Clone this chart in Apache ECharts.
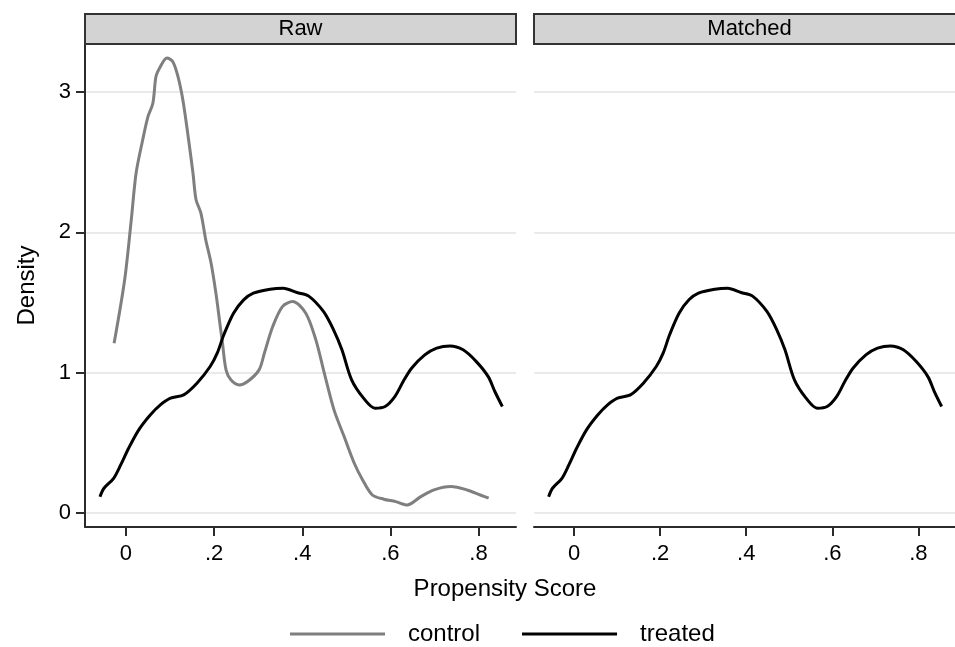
<!DOCTYPE html>
<html>
<head>
<meta charset="utf-8">
<script src="https://cdn.jsdelivr.net/npm/echarts@6/dist/echarts.min.js"></script>
<style>html,body{margin:0;padding:0;background:#fff}#c{width:955px;height:647px}</style>
</head>
<body>
<div id="c"></div>
<script>
// ---- data ----
const panels = ['Raw', 'Matched'];
const seriesNames = ['control', 'treated'];
const xTicks = [0, 0.2, 0.4, 0.6, 0.8];
const yTicks = [0, 1, 2, 3];

const controlX = [-0.027, -0.003, 0.012, 0.023, 0.038, 0.050, 0.061, 0.068, 0.076, 0.093, 0.106, 0.118, 0.129, 0.140, 0.152, 0.159, 0.170, 0.181, 0.193, 0.204, 0.215, 0.219, 0.227, 0.238, 0.257, 0.276, 0.302, 0.314, 0.333, 0.355, 0.378, 0.408, 0.431, 0.450, 0.472, 0.495, 0.518, 0.537, 0.559, 0.585, 0.612, 0.638, 0.669, 0.699, 0.737, 0.774, 0.804, 0.823];
const controlY = [1.21, 1.663, 2.09, 2.423, 2.66, 2.826, 2.92, 3.11, 3.17, 3.242, 3.218, 3.11, 2.945, 2.708, 2.423, 2.233, 2.138, 1.948, 1.782, 1.568, 1.306, 1.211, 1.021, 0.95, 0.914, 0.938, 1.021, 1.14, 1.33, 1.472, 1.508, 1.425, 1.233, 0.998, 0.736, 0.546, 0.356, 0.237, 0.13, 0.10, 0.083, 0.059, 0.118, 0.166, 0.19, 0.166, 0.13, 0.107];

const treatedX = [-0.059, -0.050, -0.028, -0.012, 0.006, 0.029, 0.055, 0.078, 0.101, 0.131, 0.161, 0.191, 0.207, 0.222, 0.244, 0.267, 0.289, 0.327, 0.357, 0.388, 0.414, 0.448, 0.471, 0.490, 0.512, 0.539, 0.565, 0.588, 0.610, 0.629, 0.648, 0.678, 0.705, 0.735, 0.765, 0.795, 0.822, 0.837, 0.854];
const treatedY = [0.118, 0.178, 0.249, 0.344, 0.463, 0.594, 0.70, 0.772, 0.82, 0.843, 0.926, 1.045, 1.14, 1.271, 1.425, 1.52, 1.568, 1.596, 1.603, 1.572, 1.548, 1.437, 1.306, 1.164, 0.95, 0.82, 0.748, 0.76, 0.831, 0.938, 1.033, 1.128, 1.176, 1.192, 1.164, 1.08, 0.973, 0.867, 0.76];

const pairs = (xs, ys) => xs.map((x, i) => [x, ys[i]]);

// ---- chart ----
const FONT = "'Liberation Sans', Arial, sans-serif";
const AX = '#2b2b2b';
const grids = [
  {left: 85, top: 44, width: 431, height: 483},
  {left: 534, top: 44, width: 431, height: 483}
];
const xMin = -0.093, xMax = 0.885, yMin = -0.098, yMax = 3.342;

const xAxes = grids.map((g, i) => ({
  type: 'value', gridIndex: i, min: xMin, max: xMax,
  axisLine: {show: true, onZero: false, lineStyle: {color: AX, width: 2}},
  axisTick: {show: true, length: 9, customValues: xTicks, lineStyle: {color: AX, width: 2}},
  axisLabel: {customValues: xTicks, margin: 16, fontFamily: FONT, fontSize: 22, color: '#000',
    formatter: v => v === 0 ? '0' : String(+v.toFixed(2)).replace(/^0/, '')},
  splitLine: {show: false}
}));
const yAxes = grids.map((g, i) => ({
  type: 'value', gridIndex: i, min: yMin, max: yMax, splitNumber: 3,
  name: i === 0 ? 'Density' : '', nameLocation: 'middle', nameGap: 46, nameRotate: 90,
  nameTextStyle: {fontFamily: FONT, fontSize: 24, color: '#000'},
  axisLine: {show: i === 0, onZero: false, lineStyle: {color: AX, width: 2}},
  axisTick: {show: i === 0, length: 9, customValues: yTicks, lineStyle: {color: AX, width: 2}},
  axisLabel: {show: i === 0, customValues: yTicks, margin: 14, fontFamily: FONT, fontSize: 22, color: '#000'},
  splitLine: {show: true, lineStyle: {color: '#e3e3e3', width: 1.5}}
}));

const graphic = [];
panels.forEach((p, i) => {
  const g = grids[i];
  graphic.push({type: 'rect', shape: {x: g.left, y: 14, width: g.width, height: 30},
    style: {fill: '#d3d3d3', stroke: '#333', lineWidth: 2}, z: 10});
  graphic.push({type: 'text', x: g.left + g.width / 2, y: 29,
    style: {text: p, font: '22px ' + FONT, fill: '#000', textAlign: 'center', textVerticalAlign: 'middle'}, z: 11});
});
graphic.push({type: 'text', x: 505, y: 589,
  style: {text: 'Propensity Score', font: '24px ' + FONT, fill: '#000', textAlign: 'center', textVerticalAlign: 'middle'}});

const chart = echarts.init(document.getElementById('c'), null, {renderer: 'canvas'});
chart.setOption({
  animation: false,
  backgroundColor: '#fff',
  grid: grids,
  xAxis: xAxes,
  yAxis: yAxes,
  graphic: graphic,
  legend: {
    data: seriesNames, left: 290, top: 622, padding: 0, icon: 'rect', itemWidth: 95, itemHeight: 3, itemGap: 42,
    textStyle: {fontFamily: FONT, fontSize: 24, color: '#000', padding: [0, 0, 0, 18]}
  },
  series: [
    {name: 'control', type: 'line', xAxisIndex: 0, yAxisIndex: 0, data: pairs(controlX, controlY),
      showSymbol: false, smooth: 0.3, lineStyle: {color: '#7f7f7f', width: 3}, itemStyle: {color: '#7f7f7f'}},
    {name: 'treated', type: 'line', xAxisIndex: 0, yAxisIndex: 0, data: pairs(treatedX, treatedY),
      showSymbol: false, smooth: 0.3, lineStyle: {color: '#000', width: 3}, itemStyle: {color: '#000'}},
    {name: 'treated', type: 'line', xAxisIndex: 1, yAxisIndex: 1, data: pairs(treatedX, treatedY),
      showSymbol: false, smooth: 0.3, lineStyle: {color: '#000', width: 3}, itemStyle: {color: '#000'}}
  ]
});
</script>
</body>
</html>
